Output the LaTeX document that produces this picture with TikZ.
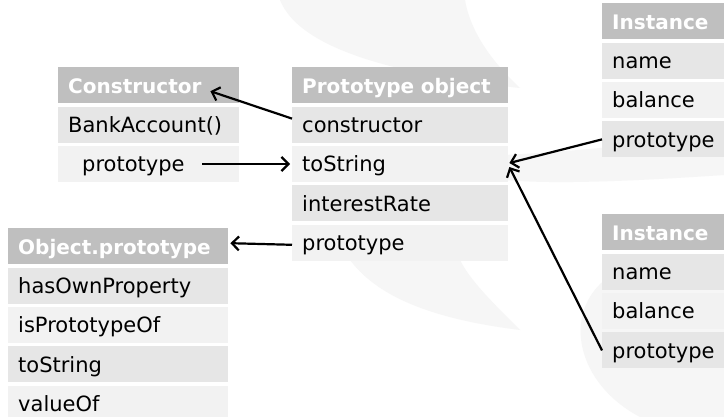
\documentclass[tikz,border=0pt]{standalone}
\usepackage{fontspec}
\setmainfont{DejaVu Sans}
\usetikzlibrary{positioning,arrows.meta}

\definecolor{hdgray}{HTML}{BFBFBF}
\definecolor{rowdark}{HTML}{E6E6E6}
\definecolor{rowlight}{HTML}{F2F2F2}
\definecolor{wmark}{HTML}{F6F6F6}

\tikzset{
  cell/.style={anchor=north west, minimum height=36pt, inner xsep=10pt, inner ysep=0pt,
    text height=19pt, text depth=3pt, align=left, font=\fontsize{21}{24}\selectfont},
  hd/.style={cell, fill=hdgray, text=white, font=\fontsize{20}{24}\selectfont\bfseries},
  dk/.style={cell, fill=rowdark},
  lt/.style={cell, fill=rowlight},
  ptr/.style={line width=2.2pt, -{Straight Barb[length=7pt,width=14pt]}},
}

\begin{document}
\begin{tikzpicture}[x=1pt, y=-1pt]
        \clip (0,0) rectangle (724,417);
        \fill[white] (0,0) rectangle (724,417);

        % faint swirls behind everything
        \fill[wmark] (280,0) .. controls (300,50) and (400,75) .. (520,88) .. controls (490,60) and (470,30) .. (465,0) -- cycle;
        \fill[wmark] (505,155) .. controls (600,150) and (680,140) .. (724,130) -- (724,175) .. controls (650,180) and (560,185) .. (505,180) -- cycle;
        \fill[wmark] (640,417) .. controls (570,380) and (560,300) .. (620,270) -- (724,260) -- (724,417) -- cycle;
        \fill[wmark] (350,260) .. controls (380,300) and (440,320) .. (520,330) .. controls (490,300) and (470,280) .. (460,260) -- cycle;

        % constructor
        \node [hd, text width=161pt] (c-head) at (58,67) {Constructor};
        \node [dk, text width=161pt, below=3pt of c-head] (c-fn) {BankAccount()};
        \node [lt, text width=161pt, below=3pt of c-fn] (c-proto) {\hspace{14pt}prototype};

        % prototype object
        \node [hd, text width=196pt] (p-head) at (292,67) {Prototype object};
        \node [dk, text width=196pt, below=3pt of p-head] (p-ctor) {constructor};
        \node [lt, text width=196pt, below=3pt of p-ctor] (p-tostr) {toString};
        \node [dk, text width=196pt, below=3pt of p-tostr] (p-rate) {interestRate};
        \node [lt, text width=196pt, below=3pt of p-rate] (p-proto) {prototype};

        % Object.prototype
        \node [hd, text width=200pt] (o-head) at (8,228) {Object.prototype};
        \node [dk, text width=200pt, below=3pt of o-head] (o-own) {hasOwnProperty};
        \node [lt, text width=200pt, below=3pt of o-own] (o-isp) {isPrototypeOf};
        \node [dk, text width=200pt, below=3pt of o-isp] (o-tostr) {toString};
        \node [lt, text width=200pt, below=3pt of o-tostr] (o-val) {valueOf};

        % two instances
        \node [hd, text width=120pt] (i1-head) at (602,3) {Instance};
        \node [dk, text width=120pt, below=3pt of i1-head] (i1-name) {name};
        \node [lt, text width=120pt, below=3pt of i1-name] (i1-bal) {balance};
        \node [dk, text width=120pt, below=3pt of i1-bal] (i1-proto) {prototype};

        \node [hd, text width=120pt] (i2-head) at (602,214) {Instance};
        \node [dk, text width=120pt, below=3pt of i2-head] (i2-name) {name};
        \node [lt, text width=120pt, below=3pt of i2-name] (i2-bal) {balance};
        \node [dk, text width=120pt, below=3pt of i2-bal] (i2-proto) {prototype};

        % links
        \draw [ptr] ([yshift=6pt]p-ctor.west) -- ([xshift=-29pt, yshift=-6pt]c-head.east);
        \draw [ptr, shorten >=2pt] ([xshift=-37pt]c-proto.east) -- (p-tostr.west);
        \draw [ptr] ([yshift=-2pt]p-proto.west) -- ([xshift=2pt, yshift=3pt]o-head.east);
        \draw [ptr] (i1-proto.west) -- ([xshift=1pt, yshift=1pt]p-tostr.east);
        \draw [ptr] (i2-proto.west) -- ([xshift=1pt, yshift=-3pt]p-tostr.east);
    \end{tikzpicture}
\end{document}
